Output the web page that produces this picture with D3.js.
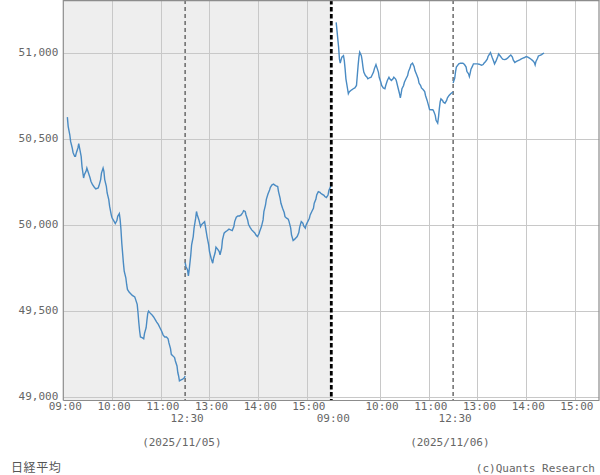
<!DOCTYPE html>
<html><head><meta charset="utf-8">
<script src="https://cdn.jsdelivr.net/npm/d3@7"></script>
<style>body{margin:0;background:#fff} svg{display:block}</style>
</head><body><svg id="c" width="600" height="475"></svg>
<script>
const dates = ["2025/11/05","2025/11/06"];
const yTicks = [49000,49500,50000,50500,51000];
const xTopLabels = [["09:00","10:00","11:00","13:00","14:00","15:00"],["10:00","11:00","13:00","14:00","15:00"]];
const xBottomLabels = [["12:30"],["09:00","12:30"]];
const gridTimes = ["10:00","11:00","13:00","14:00","15:00"];
const breakTime = "12:30";
const seriesName = "日経平均";
const credit = "(c)Quants Research";

const day1Times = ["09:05","09:06","09:08","09:09","09:11","09:12","09:14","09:15","09:16","09:18","09:19","09:20","09:22","09:23","09:25","09:26","09:28","09:29","09:31","09:33","09:34","09:36","09:38","09:40","09:43","09:44","09:46","09:47","09:49","09:50","09:51","09:53","09:54","09:56","09:57","09:59","10:00","10:02","10:04","10:06","10:07","10:09","10:10","10:11","10:12","10:13","10:14","10:15","10:17","10:18","10:19","10:21","10:23","10:25","10:28","10:29","10:31","10:32","10:33","10:34","10:35","10:37","10:39","10:40","10:42","10:43","10:44","10:45","10:47","10:49","10:51","10:53","10:55","10:57","10:59","11:01","11:03","11:05","11:07","11:09","11:10","11:12","11:13","11:15","11:17","11:18","11:20","11:21","11:22","11:23","11:25","11:27","11:29","11:30",
"12:30","12:31","12:33","12:34","12:35","12:37","12:38","12:40","12:41","12:43","12:44","12:45","12:47","12:49","12:50","12:52","12:54","12:55","12:56","12:57","12:59","13:00","13:02","13:04","13:05","13:07","13:08","13:10","13:12","13:13","13:15","13:16","13:18","13:20","13:22","13:24","13:26","13:28","13:30","13:31","13:33","13:35","13:37","13:39","13:41","13:42","13:44","13:45","13:47","13:48","13:50","13:52","13:54","13:56","13:57","13:59","14:01","14:02","14:04","14:06","14:07","14:09","14:10","14:12","14:14","14:15","14:17","14:19","14:20","14:22","14:24","14:25","14:27","14:28","14:30","14:32","14:33","14:35","14:37","14:38","14:40","14:41","14:43","14:45","14:46","14:48","14:50","14:51","14:53","14:55","14:56","14:58","14:59","15:01","15:03","15:04","15:06","15:08","15:09","15:11","15:12","15:14","15:16","15:17","15:19","15:21","15:22","15:24","15:26","15:27","15:29","15:30"];
const day1Values = [50628,50574,50525,50486,50448,50422,50399,50399,50419,50448,50473,50448,50399,50341,50273,50293,50312,50331,50302,50273,50254,50234,50221,50209,50215,50229,50264,50302,50331,50312,50264,50225,50186,50147,50109,50060,50041,50025,50008,50025,50050,50066,50031,49973,49895,49837,49779,49731,49692,49653,49624,49609,49599,49589,49580,49566,49537,49488,49430,49382,49347,49343,49337,49368,49401,49446,49485,49498,49486,49477,49465,49450,49434,49420,49401,49382,49358,49347,49347,49337,49314,49279,49246,49237,49227,49207,49178,49140,49120,49091,49097,49101,49109,49120,
49781,49758,49738,49703,49738,49826,49884,49932,49981,50039,50078,50058,50029,49990,50000,50010,50019,49990,49961,49932,49884,49845,49806,49777,49806,49839,49870,49859,49845,49826,49864,49913,49952,49961,49967,49975,49971,49967,49990,50019,50045,50052,50052,50058,50072,50083,50078,50058,50029,50004,49986,49971,49961,49952,49942,49932,49948,49965,49990,50029,50078,50116,50149,50180,50203,50219,50233,50238,50233,50227,50223,50194,50155,50126,50097,50072,50048,50039,50033,50019,49981,49942,49909,49917,49922,49932,49955,49986,50019,50010,49994,49981,50000,50019,50039,50058,50078,50097,50126,50149,50174,50194,50190,50184,50178,50172,50165,50159,50174,50200,50223,50223];

const day2Times = ["09:06","09:07","09:08","09:09","09:10","09:11","09:12","09:13","09:15","09:16","09:17","09:18","09:20","09:21","09:22","09:24","09:26","09:27","09:29","09:31","09:32","09:33","09:34","09:35","09:37","09:38","09:39","09:40","09:42","09:44","09:45","09:47","09:49","09:50","09:52","09:53","09:55","09:56","09:58","09:59","10:01","10:02","10:04","10:06","10:07","10:09","10:11","10:12","10:14","10:16","10:17","10:19","10:20","10:22","10:24","10:25","10:26","10:27","10:29","10:30","10:32","10:34","10:35","10:37","10:38","10:40","10:42","10:43","10:45","10:47","10:48","10:50","10:51","10:53","10:55","10:56","10:58","11:00","11:01","11:03","11:05","11:06","11:08","11:09","11:11","11:12","11:13","11:14","11:15","11:17","11:18","11:20","11:22","11:23","11:25","11:27","11:28","11:30",
"12:30","12:32","12:33","12:34","12:36","12:37","12:39","12:41","12:42","12:44","12:46","12:47","12:49","12:50","12:51","12:52","12:54","12:55","12:57","12:59","13:00","13:02","13:04","13:05","13:07","13:08","13:10","13:12","13:13","13:15","13:16","13:18","13:20","13:21","13:23","13:25","13:26","13:28","13:30","13:31","13:33","13:35","13:37","13:39","13:41","13:43","13:44","13:46","13:48","13:50","13:52","13:54","13:56","13:58","14:00","14:02","14:04","14:06","14:08","14:10","14:11","14:12","14:14","14:15","14:17","14:19","14:20","14:22"];
const day2Values = [51180,51132,51083,51035,50967,50942,50961,50977,50986,50957,50909,50851,50793,50764,50774,50783,50789,50793,50798,50812,50870,50928,50977,51006,50986,50957,50919,50890,50870,50860,50851,50857,50860,50870,50890,50909,50934,50919,50890,50860,50831,50812,50798,50793,50812,50841,50860,50851,50841,50851,50860,50851,50841,50802,50764,50740,50764,50793,50812,50831,50851,50870,50893,50915,50934,50942,50922,50899,50876,50851,50826,50812,50798,50789,50777,50754,50725,50690,50672,50671,50671,50663,50638,50609,50593,50628,50676,50715,50734,50725,50715,50709,50725,50740,50754,50764,50768,50774,
50826,50855,50893,50919,50932,50938,50942,50942,50942,50934,50919,50893,50880,50864,50884,50907,50926,50938,50938,50938,50938,50936,50932,50930,50934,50942,50952,50965,50981,50996,51004,50977,50952,50938,50957,50981,50996,50984,50971,50965,50963,50965,50971,50981,50990,50977,50961,50946,50952,50957,50961,50967,50971,50975,50981,50977,50971,50965,50957,50946,50932,50952,50971,50984,50988,50992,50996,51000];

const days = [{times: day1Times, values: day1Values}, {times: day2Times, values: day2Values}];

// trading-minute position (lunch break removed, 330 minutes per day)
function tm(day, t) {
  const [h, m] = t.split(":").map(Number);
  let v = h * 60 + m - 540;
  if (v >= 210) v -= 60;
  return v + day * 330;
}

const svg = d3.select("#c");
const L = 63.3, R = 599.3, T = 0, B = 400;
const x = d3.scaleLinear().domain([0, 660]).range([L, R]);
const y = d3.scaleLinear().domain([48980, 51310]).range([B, T]);
const font = "'DejaVu Sans Mono', 'Liberation Mono', monospace";
const txtCol = "#666";

// day 1 background
svg.append("rect").attr("x", x(0)).attr("y", T).attr("width", x(330) - x(0)).attr("height", B - T).attr("fill", "#eeeeee");

// horizontal grid
svg.append("g").selectAll("line").data(yTicks).join("line")
  .attr("x1", L).attr("x2", R).attr("y1", d => Math.round(y(d)) + 0.5).attr("y2", d => Math.round(y(d)) + 0.5)
  .attr("stroke", "#c8c8c8").attr("stroke-width", 1);

// vertical grid
const vg = [];
days.forEach((d, i) => gridTimes.forEach(t => vg.push(tm(i, t))));
svg.append("g").selectAll("line").data(vg).join("line")
  .attr("x1", d => Math.round(x(d)) + 0.5).attr("x2", d => Math.round(x(d)) + 0.5).attr("y1", T).attr("y2", B)
  .attr("stroke", "#c8c8c8").attr("stroke-width", 1);

// lunch-break dashed lines
svg.append("g").selectAll("line").data([0, 1].map(i => tm(i, breakTime))).join("line")
  .attr("x1", d => x(d)).attr("x2", d => x(d)).attr("y1", T).attr("y2", B)
  .attr("stroke", "#555").attr("stroke-width", 1.3).attr("stroke-dasharray", "4,3");

// series lines, split per session
const line = d3.line().x(p => x(p[0])).y(p => y(p[1]));
days.forEach((d, i) => {
  const am = [], pm = [];
  d.times.forEach((t, k) => (t < "12:00" ? am : pm).push([tm(i, t), d.values[k]]));
  [am, pm].forEach(seg => {
    svg.append("path").attr("d", line(seg)).attr("fill", "none")
      .attr("stroke", "#4a8bc3").attr("stroke-width", 1.4).attr("stroke-linejoin", "miter");
  });
});

// day boundary
svg.append("line").attr("x1", x(330)).attr("x2", x(330)).attr("y1", T).attr("y2", B)
  .attr("stroke", "#000").attr("stroke-width", 2.8).attr("stroke-dasharray", "4.5,2.5");

// frame
const fr = svg.append("g").attr("stroke", "#8c8c8c").attr("stroke-width", 1.2);
fr.append("line").attr("x1", L).attr("x2", L).attr("y1", T).attr("y2", B + 0.5);
fr.append("line").attr("x1", L).attr("x2", R).attr("y1", B + 0.5).attr("y2", B + 0.5);
fr.append("line").attr("x1", L).attr("x2", R).attr("y1", T + 0.6).attr("y2", T + 0.6);
fr.append("line").attr("x1", R - 0.3).attr("x2", R - 0.3).attr("y1", T).attr("y2", B + 0.5);

// y axis
const ya = svg.append("g").attr("transform", `translate(${L},0)`)
  .call(d3.axisLeft(y).tickValues(yTicks).tickSize(0).tickPadding(5).tickFormat(d3.format(",")));
ya.select(".domain").remove();
ya.selectAll("text").attr("font-family", font).attr("font-size", 11).attr("fill", txtCol)
  .attr("dy", null).attr("dominant-baseline", "central").attr("y", -0.8);

// x axes (two rows)
function xRow(labelsPerDay, cy) {
  const vals = [], lab = new Map();
  labelsPerDay.forEach((arr, i) => arr.forEach(t => { const m = tm(i, t); vals.push(m); lab.set(m, t); }));
  const g = svg.append("g").attr("transform", `translate(1.5,${B})`)
    .call(d3.axisBottom(x).tickValues(vals).tickSize(0).tickFormat(m => lab.get(m)));
  g.select(".domain").remove();
  g.selectAll("text").attr("font-family", font).attr("font-size", 11).attr("fill", txtCol)
    .attr("dy", null).attr("y", cy - B).attr("dominant-baseline", "central");
}
xRow(xTopLabels, 406.5);
xRow(xBottomLabels, 418.5);

// date labels
svg.append("g").selectAll("text").data(dates).join("text")
  .attr("x", (d, i) => x(i * 330 + 146)).attr("y", 442.5).attr("text-anchor", "middle")
  .attr("dominant-baseline", "central").attr("font-family", font).attr("font-size", 11).attr("fill", txtCol)
  .text(d => `(${d})`);

svg.append("text").attr("x", 11).attr("y", 466.5).attr("dominant-baseline", "central")
  .attr("font-family", "'Noto Sans CJK JP', sans-serif").attr("font-size", 12).attr("letter-spacing", 0.6)
  .attr("fill", "#555").text(seriesName);

svg.append("text").attr("x", 595).attr("y", 468).attr("text-anchor", "end").attr("dominant-baseline", "central")
  .attr("font-family", font).attr("font-size", 11).attr("fill", txtCol).text(credit);
</script></body></html>
